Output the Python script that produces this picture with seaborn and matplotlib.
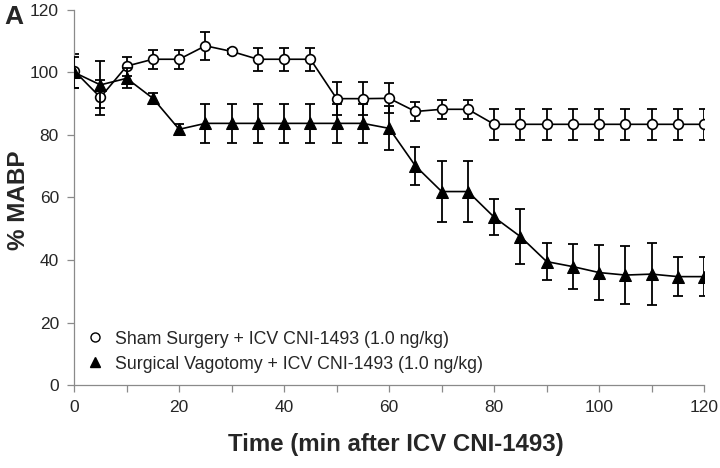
import numpy as np
import pandas as pd
import matplotlib
matplotlib.use("Agg")
import matplotlib.pyplot as plt
from matplotlib.lines import Line2D
import seaborn as sns

# Data
time = list(range(0, 125, 5))
sham_mean = [100.5, 92, 102, 104.2, 104.2, 108.5, 106.7, 104.2, 104.2, 104.2,
             91.6, 91.6, 91.7, 87.5, 88.2, 88.2, 83.4, 83.4, 83.4, 83.4,
             83.4, 83.4, 83.4, 83.4, 83.4]
sham_err = [5.5, 5.5, 3, 3.1, 3.1, 4.5, 0.8, 3.6, 3.6, 3.6,
            5.2, 5.2, 4.8, 3, 3, 3, 5, 5, 5, 5,
            5, 5, 5, 5, 5]
vago_mean = [100, 96, 98.1, 91.7, 81.8, 83.7, 83.7, 83.7, 83.7, 83.7,
             83.7, 83.7, 82.1, 70.1, 61.9, 61.9, 53.7, 47.5, 39.5, 37.9,
             36, 35.2, 35.5, 34.7, 34.7]
vago_err = [5, 7.5, 3.2, 1.8, 1.7, 6.2, 6.2, 6.2, 6.2, 6.2,
            6.2, 6.2, 7, 6, 9.8, 9.8, 5.7, 8.7, 6, 7.3,
            8.7, 9.2, 9.9, 6.2, 6.2]

sham_label = "Sham Surgery + ICV CNI-1493 (1.0 ng/kg)"
vago_label = "Surgical Vagotomy + ICV CNI-1493 (1.0 ng/kg)"

df = pd.DataFrame({
    "time": time * 2,
    "mabp": sham_mean + vago_mean,
    "err": sham_err + vago_err,
    "group": [sham_label] * len(time) + [vago_label] * len(time),
})

sns.set_theme(style="ticks")
plt.rcParams["font.family"] = ["Liberation Sans", "DejaVu Sans"]

fig = plt.figure(figsize=(7.2, 4.68), dpi=100)
ax = fig.add_axes([0.103, 0.177, 0.875, 0.802])

# Error bars
for grp, z in [(sham_label, 2), (vago_label, 4)]:
    d = df[df["group"] == grp]
    ax.errorbar(d["time"], d["mabp"], yerr=d["err"], fmt="none",
                ecolor="black", elinewidth=1.3, capsize=3.6, capthick=1.3,
                zorder=z)

# Lines + markers
d = df[df["group"] == sham_label]
sns.lineplot(x="time", y="mabp", data=d, ax=ax, color="black", lw=1.2,
             marker="o", markersize=7, markerfacecolor="white",
             markeredgecolor="black", markeredgewidth=1.2, zorder=3,
             legend=False)
d = df[df["group"] == vago_label]
sns.lineplot(x="time", y="mabp", data=d, ax=ax, color="black", lw=1.2,
             marker="^", markersize=8, markerfacecolor="black",
             markeredgecolor="black", zorder=5, legend=False)

ax.set_xlim(0, 120)
ax.set_ylim(0, 120)
ax.set_xticks(range(0, 121, 20))
ax.set_xticks(range(0, 121, 10), minor=True)
ax.set_yticks(range(0, 121, 20))

for s in ["top", "right"]:
    ax.spines[s].set_visible(False)
for s in ["left", "bottom"]:
    ax.spines[s].set_color("#8a8a8a")
    ax.spines[s].set_linewidth(0.9)
ax.tick_params(axis="both", which="both", color="#8a8a8a", width=0.9,
               labelsize=12.5, pad=6)
ax.tick_params(axis="both", which="major", length=5)
ax.tick_params(axis="x", which="minor", length=5)

ax.set_xlabel("Time (min after ICV CNI-1493)", fontsize=17.3,
              fontweight="bold")
ax.xaxis.set_label_coords(0.51, -0.127)
ax.set_ylabel("% MABP", fontsize=17.5, fontweight="bold")
ax.yaxis.set_label_coords(-0.07, 0.493)

handles = [
    Line2D([], [], ls="none", marker="o", markersize=6.5,
           markerfacecolor="white", markeredgecolor="black"),
    Line2D([], [], ls="none", marker="^", markersize=6.5,
           markerfacecolor="black", markeredgecolor="black"),
]
ax.legend(handles, [sham_label, vago_label], loc="lower left",
          bbox_to_anchor=(0.0, 0.0), frameon=False, fontsize=12.8,
          handlelength=1.0, handletextpad=0.6, labelspacing=0.45,
          borderaxespad=0.3)

fig.text(0.006, 0.99, "A", fontsize=19, fontweight="bold", va="top")

fig.savefig("out.png", dpi=100)
